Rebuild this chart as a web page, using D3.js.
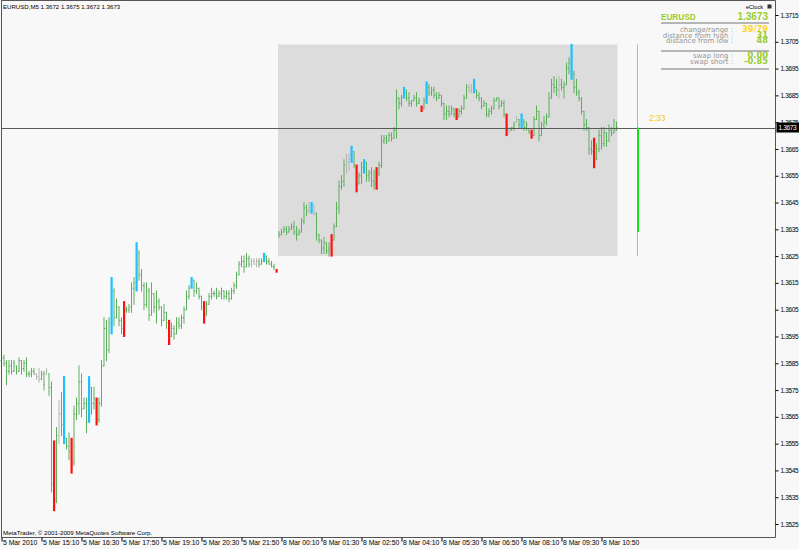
<!DOCTYPE html>
<html>
<head>
<meta charset="utf-8">
<script src="https://cdn.jsdelivr.net/npm/d3@7"></script>
<style>
  html, body { margin: 0; padding: 0; background: #f8f8f8; }
  svg { display: block; font-family: "Liberation Sans", Arial, sans-serif; }
  .axis text { font-size: 6.8px; fill: #000; }
  .yaxis text { font-size: 6.5px; letter-spacing: -0.35px; }
  .axis line { stroke: #000; }
  .panel-label { font-family: "DejaVu Sans", Verdana, sans-serif; font-size: 7px; fill: #949494; text-anchor: end; }
  .panel-value { font-family: "DejaVu Sans", Verdana, sans-serif; font-size: 8.3px; font-weight: bold; text-anchor: end; }
</style>
</head>
<body>
<script>
// EURUSD M5, 5 Mar 2010 14:xx .. 8 Mar 2010 11:15, [open, high, low, close]
const bars = [
  [1.3586,1.3588,1.3585,1.3587],[1.3587,1.3588,1.3584,1.3585],[1.3585,1.3586,1.3577,1.3582],[1.3582,1.3586,1.3581,1.3584],[1.3584,1.3586,1.3581,1.3582],
  [1.3582,1.3586,1.3582,1.3585],[1.3584,1.3584,1.3581,1.3582],[1.3582,1.3587,1.3582,1.3586],[1.3586,1.3586,1.3581,1.3583],[1.3583,1.3586,1.3582,1.3585],
  [1.3585,1.3587,1.3580,1.3581],[1.3581,1.3582,1.3580,1.3581],[1.3581,1.3583,1.3580,1.3582],[1.3582,1.3583,1.3581,1.3581],[1.3581,1.3581,1.3579,1.3580],
  [1.3580,1.3583,1.3578,1.3579],[1.3579,1.3582,1.3579,1.3581],[1.3581,1.3582,1.3575,1.3577],[1.3581,1.3583,1.3581,1.3582],[1.3581,1.3581,1.3573,1.3576],
  [1.3576,1.3578,1.3537,1.3540],[1.3540,1.3556,1.3530,1.3534],[1.3534,1.3561,1.3533,1.3558],[1.3558,1.3571,1.3555,1.3566],[1.3566,1.3574,1.3558,1.3562],
  [1.3562,1.3580,1.3555,1.3557],[1.3557,1.3557,1.3553,1.3554],[1.3554,1.3559,1.3549,1.3552],[1.3552,1.3557,1.3544,1.3548],[1.3548,1.3569,1.3547,1.3566],
  [1.3566,1.3572,1.3564,1.3570],[1.3570,1.3584,1.3566,1.3578],[1.3578,1.3581,1.3565,1.3568],[1.3568,1.3572,1.3568,1.3570],[1.3570,1.3572,1.3559,1.3563],
  [1.3563,1.3580,1.3563,1.3576],[1.3576,1.3576,1.3566,1.3570],[1.3570,1.3576,1.3568,1.3572],[1.3572,1.3572,1.3562,1.3564],[1.3564,1.3572,1.3563,1.3570],
  [1.3570,1.3586,1.3569,1.3584],[1.3584,1.3602,1.3584,1.3598],[1.3598,1.3601,1.3586,1.3590],[1.3590,1.3602,1.3589,1.3600],[1.3600,1.3617,1.3596,1.3612],
  [1.3612,1.3613,1.3599,1.3602],[1.3602,1.3609,1.3602,1.3606],[1.3606,1.3606,1.3599,1.3601],[1.3601,1.3602,1.3596,1.3598],[1.3598,1.3608,1.3595,1.3605],
  [1.3605,1.3606,1.3604,1.3605],[1.3605,1.3607,1.3604,1.3606],[1.3606,1.3615,1.3604,1.3613],[1.3613,1.3617,1.3607,1.3615],[1.3615,1.3630,1.3612,1.3626],
  [1.3626,1.3627,1.3616,1.3618],[1.3618,1.3620,1.3612,1.3614],[1.3614,1.3615,1.3605,1.3607],[1.3607,1.3615,1.3606,1.3612],[1.3612,1.3613,1.3601,1.3603],
  [1.3603,1.3615,1.3603,1.3611],[1.3611,1.3611,1.3604,1.3606],[1.3606,1.3612,1.3600,1.3608],[1.3608,1.3609,1.3605,1.3606],[1.3606,1.3606,1.3599,1.3601],
  [1.3601,1.3607,1.3601,1.3604],[1.3604,1.3604,1.3598,1.3600],[1.3600,1.3601,1.3592,1.3595],[1.3595,1.3600,1.3595,1.3598],[1.3598,1.3599,1.3594,1.3596],
  [1.3596,1.3602,1.3596,1.3600],[1.3600,1.3602,1.3598,1.3599],[1.3599,1.3603,1.3598,1.3602],[1.3602,1.3606,1.3600,1.3605],[1.3605,1.3612,1.3605,1.3610],
  [1.3610,1.3614,1.3609,1.3613],[1.3613,1.3617,1.3613,1.3616],[1.3616,1.3616,1.3610,1.3612],[1.3612,1.3615,1.3611,1.3613],[1.3613,1.3613,1.3609,1.3610],
  [1.3610,1.3610,1.3605,1.3606],[1.3606,1.3608,1.3600,1.3603],[1.3603,1.3608,1.3603,1.3607],[1.3607,1.3611,1.3607,1.3610],[1.3610,1.3613,1.3609,1.3611],
  [1.3611,1.3612,1.3610,1.3611],[1.3611,1.3613,1.3609,1.3610],[1.3610,1.3612,1.3610,1.3611],[1.3611,1.3613,1.3609,1.3612],[1.3612,1.3612,1.3609,1.3610],
  [1.3610,1.3612,1.3609,1.3611],[1.3611,1.3612,1.3608,1.3609],[1.3609,1.3613,1.3609,1.3612],[1.3612,1.3615,1.3611,1.3614],[1.3614,1.3619,1.3613,1.3618],
  [1.3618,1.3623,1.3618,1.3622],[1.3622,1.3625,1.3621,1.3623],[1.3623,1.3625,1.3619,1.3621],[1.3621,1.3626,1.3621,1.3624],[1.3624,1.3625,1.3621,1.3622],
  [1.3622,1.3624,1.3621,1.3623],[1.3623,1.3624,1.3622,1.3622],[1.3622,1.3624,1.3621,1.3623],[1.3623,1.3624,1.3621,1.3622],[1.3622,1.3624,1.3622,1.3623],
  [1.3623,1.3626,1.3623,1.3625],[1.3625,1.3625,1.3622,1.3623],[1.3623,1.3624,1.3622,1.3622],[1.3622,1.3623,1.3621,1.3621],[1.3621,1.3622,1.3620,1.3621],
  [1.3620,1.3620,1.3619,1.3619],
  // 8 Mar
  [1.3634,1.3634,1.3632,1.3633],[1.3633,1.3635,1.3633,1.3634],[1.3634,1.3636,1.3634,1.3635],[1.3635,1.3636,1.3633,1.3634],
  [1.3634,1.3636,1.3634,1.3635],[1.3635,1.3637,1.3635,1.3636],[1.3636,1.3638,1.3633,1.3634],[1.3634,1.3636,1.3631,1.3633],[1.3633,1.3635,1.3633,1.3634],
  [1.3634,1.3639,1.3634,1.3638],[1.3638,1.3645,1.3637,1.3643],[1.3643,1.3644,1.3640,1.3642],[1.3642,1.3645,1.3641,1.3643],[1.3643,1.3645,1.3641,1.3644],
  [1.3644,1.3644,1.3640,1.3641],[1.3641,1.3641,1.3631,1.3633],[1.3633,1.3633,1.3630,1.3631],[1.3631,1.3631,1.3626,1.3628],[1.3628,1.3632,1.3626,1.3630],
  [1.3630,1.3630,1.3626,1.3627],[1.3627,1.3630,1.3625,1.3628],[1.3628,1.3633,1.3625,1.3631],[1.3631,1.3637,1.3631,1.3636],[1.3636,1.3645,1.3636,1.3643],
  [1.3643,1.3653,1.3641,1.3651],[1.3651,1.3655,1.3650,1.3653],[1.3653,1.3661,1.3651,1.3659],[1.3659,1.3663,1.3656,1.3660],[1.3660,1.3663,1.3657,1.3661],
  [1.3661,1.3666,1.3660,1.3664],[1.3664,1.3664,1.3658,1.3659],[1.3659,1.3659,1.3649,1.3652],[1.3652,1.3656,1.3652,1.3655],[1.3655,1.3660,1.3652,1.3658],
  [1.3658,1.3661,1.3656,1.3660],[1.3660,1.3660,1.3653,1.3655],[1.3655,1.3657,1.3653,1.3656],[1.3656,1.3658,1.3651,1.3653],[1.3653,1.3657,1.3650,1.3652],
  [1.3652,1.3658,1.3650,1.3656],[1.3656,1.3660,1.3655,1.3659],[1.3659,1.3670,1.3658,1.3668],[1.3668,1.3670,1.3667,1.3669],[1.3669,1.3670,1.3667,1.3668],
  [1.3668,1.3671,1.3668,1.3670],[1.3670,1.3671,1.3668,1.3669],[1.3669,1.3673,1.3669,1.3672],[1.3672,1.3687,1.3669,1.3684],[1.3684,1.3684,1.3680,1.3682],
  [1.3682,1.3685,1.3681,1.3684],[1.3684,1.3688,1.3684,1.3686],[1.3686,1.3687,1.3683,1.3684],[1.3684,1.3686,1.3681,1.3682],[1.3682,1.3683,1.3681,1.3683],
  [1.3683,1.3685,1.3683,1.3684],[1.3684,1.3686,1.3681,1.3682],[1.3682,1.3684,1.3682,1.3683],[1.3681,1.3681,1.3679,1.3680],[1.3680,1.3684,1.3680,1.3683],
  [1.3683,1.3690,1.3682,1.3688],[1.3688,1.3689,1.3685,1.3686],[1.3686,1.3688,1.3685,1.3687],[1.3687,1.3688,1.3684,1.3685],[1.3685,1.3686,1.3683,1.3684],
  [1.3684,1.3686,1.3684,1.3685],[1.3685,1.3685,1.3681,1.3682],[1.3682,1.3682,1.3676,1.3678],[1.3678,1.3681,1.3676,1.3679],[1.3679,1.3681,1.3677,1.3678],
  [1.3678,1.3681,1.3678,1.3680],[1.3680,1.3680,1.3677,1.3678],[1.3678,1.3680,1.3676,1.3677],[1.3677,1.3680,1.3677,1.3679],[1.3679,1.3681,1.3678,1.3680],
  [1.3680,1.3685,1.3680,1.3684],[1.3684,1.3689,1.3684,1.3688],[1.3688,1.3689,1.3686,1.3687],[1.3687,1.3689,1.3686,1.3688],[1.3688,1.3691,1.3686,1.3687],
  [1.3687,1.3687,1.3684,1.3685],[1.3685,1.3686,1.3683,1.3684],[1.3684,1.3684,1.3680,1.3681],[1.3681,1.3683,1.3681,1.3682],[1.3682,1.3682,1.3677,1.3678],
  [1.3678,1.3680,1.3677,1.3679],[1.3679,1.3681,1.3678,1.3680],[1.3680,1.3684,1.3680,1.3683],[1.3683,1.3684,1.3683,1.3684],[1.3684,1.3684,1.3680,1.3681],
  [1.3681,1.3683,1.3681,1.3682],[1.3682,1.3683,1.3677,1.3678],[1.3678,1.3678,1.3670,1.3671],[1.3671,1.3673,1.3671,1.3672],[1.3672,1.3673,1.3672,1.3673],
  [1.3673,1.3675,1.3672,1.3674],[1.3675,1.3677,1.3675,1.3676],[1.3676,1.3676,1.3673,1.3674],[1.3674,1.3678,1.3673,1.3675],[1.3675,1.3676,1.3672,1.3673],
  [1.3673,1.3675,1.3672,1.3674],[1.3672,1.3672,1.3671,1.3671],[1.3671,1.3672,1.3669,1.3670],[1.3670,1.3677,1.3670,1.3676],[1.3676,1.3681,1.3676,1.3679],
  [1.3679,1.3679,1.3668,1.3670],[1.3670,1.3675,1.3670,1.3674],[1.3674,1.3677,1.3673,1.3675],[1.3675,1.3678,1.3674,1.3677],[1.3677,1.3686,1.3677,1.3684],
  [1.3684,1.3691,1.3684,1.3689],[1.3689,1.3692,1.3686,1.3688],[1.3688,1.3691,1.3685,1.3687],[1.3687,1.3692,1.3684,1.3689],[1.3689,1.3691,1.3687,1.3688],
  [1.3688,1.3690,1.3684,1.3689],[1.3689,1.3697,1.3689,1.3695],[1.3695,1.3699,1.3693,1.3697],[1.3697,1.3704,1.3691,1.3693],[1.3693,1.3694,1.3686,1.3688],
  [1.3688,1.3691,1.3685,1.3686],[1.3686,1.3687,1.3683,1.3684],[1.3684,1.3684,1.3678,1.3679],[1.3679,1.3679,1.3672,1.3674],[1.3674,1.3676,1.3672,1.3673],
  [1.3673,1.3673,1.3663,1.3665],[1.3665,1.3668,1.3663,1.3664],[1.3664,1.3669,1.3658,1.3661],[1.3661,1.3667,1.3661,1.3665],[1.3665,1.3672,1.3664,1.3670],
  [1.3670,1.3673,1.3665,1.3667],[1.3667,1.3673,1.3666,1.3671],[1.3671,1.3671,1.3666,1.3668],[1.3668,1.3674,1.3668,1.3672],[1.3672,1.3673,1.3670,1.3671],
  [1.3671,1.3676,1.3671,1.3672],[1.3672,1.3675,1.3672,1.3673]
];

// bar indices coloured by the indicator
const greyBars = [14, 15, 18, 23, 100, 101, 102, 123, 125, 138, 139, 187, 188, 203, 206, 223];
const blueBars = [25, 35, 44, 54, 76, 105, 124, 140, 145, 161, 170, 189, 208, 228];
const redBars = [21, 28, 38, 49, 67, 81, 110, 132, 142, 150, 168, 182, 202, 212, 237];

const sessionStart = 111; // first bar of 8 Mar

const priceTicks = [1.3525, 1.3535, 1.3545, 1.3555, 1.3565, 1.3575, 1.3585, 1.3595, 1.3605, 1.3615,
                    1.3625, 1.3635, 1.3645, 1.3655, 1.3665, 1.3675, 1.3685, 1.3695, 1.3705, 1.3715];

const timeTickBars = [0, 16, 32, 48, 64, 80, 96, 112, 128, 144, 160, 176, 192, 208, 224, 240];
const timeTickLabels = ["5 Mar 2010", "5 Mar 15:10", "5 Mar 16:30", "5 Mar 17:50", "5 Mar 19:10", "5 Mar 20:30",
                        "5 Mar 21:50", "8 Mar 00:10", "8 Mar 01:30", "8 Mar 02:50", "8 Mar 04:10", "8 Mar 05:30",
                        "8 Mar 06:50", "8 Mar 08:10", "8 Mar 09:30", "8 Mar 10:50"];

const symbol = "EURUSD";
const period = "M5";
const swapLong = "0.00";
const swapShort = "-0.85";
const timeLeft = "2:33";

const W = 799, H = 549;
const plotRight = 775.5, plotBottom = 537.5;

const svg = d3.select("body").append("svg").attr("width", W).attr("height", H);
svg.append("rect").attr("width", W).attr("height", H).attr("fill", "#f8f8f8");

const x = d3.scaleLinear().domain([0, bars.length - 1]).range([1.5, 1.5 + 2.5 * (bars.length - 1)]);
const y = d3.scaleLinear().domain([1.3525, 1.3715]).range([524, 15]);

// session stats
const session = bars.slice(sessionStart);
const sHigh = d3.max(session, d => d[1]);
const sLow = d3.min(session, d => d[2]);
const sOpen = session[0][0];
const last = bars[bars.length - 1];
const pip = v => Math.round(v * 10000);

// session box
svg.append("rect")
    .attr("x", x(sessionStart) - 1)
    .attr("y", y(sHigh))
    .attr("width", x(bars.length - 1) - x(sessionStart) + 2)
    .attr("height", y(sLow) - y(sHigh))
    .attr("fill", "#dcdcdc");

const kindOf = i => blueBars.includes(i) ? "blue" : redBars.includes(i) ? "red" : greyBars.includes(i) ? "grey" : "green";
const barColor = {green: "#5daf5d", grey: "#b4b4b4", blue: "#1cc0ff", red: "#ff1010"};

const data = bars.map((b, i) => ({i, o: b[0], h: b[1], l: b[2], c: b[3], kind: kindOf(i)}));

// thin OHLC bars
const thin = svg.append("g").selectAll("g")
    .data(data.filter(d => d.kind === "green" || d.kind === "grey"))
    .join("g")
    .attr("stroke", d => barColor[d.kind])
    .attr("stroke-width", 1);
thin.append("line")
    .attr("x1", d => x(d.i)).attr("x2", d => x(d.i))
    .attr("y1", d => y(d.h) - 0.5).attr("y2", d => y(d.l) + 0.5);
thin.append("line")
    .attr("x1", d => x(d.i) - 1).attr("x2", d => x(d.i))
    .attr("y1", d => y(d.o)).attr("y2", d => y(d.o));
thin.append("line")
    .attr("x1", d => x(d.i)).attr("x2", d => x(d.i) + 1)
    .attr("y1", d => y(d.c)).attr("y2", d => y(d.c));

// thick highlighted bars
svg.append("g").selectAll("rect")
    .data(data.filter(d => d.kind === "blue" || d.kind === "red"))
    .join("rect")
    .attr("x", d => x(d.i) - 1)
    .attr("width", 2.2)
    .attr("y", d => y(d.h) - 0.5)
    .attr("height", d => Math.max(2, y(d.l) - y(d.h) + 1))
    .attr("fill", d => barColor[d.kind]);

// current price line
svg.append("line")
    .attr("x1", 1.5).attr("x2", plotRight)
    .attr("y1", Math.round(y(last[3])) + 0.5).attr("y2", Math.round(y(last[3])) + 0.5)
    .attr("stroke", "#5a5a5a").attr("stroke-width", 1);

// clock line to the right of the last bar
const clockX = Math.round(x(bars.length - 1 + 8)) + 0.5;
svg.append("line")
    .attr("x1", clockX).attr("x2", clockX)
    .attr("y1", y(sHigh)).attr("y2", y(sLow))
    .attr("stroke", "#8fcf8f").attr("stroke-width", 1);
svg.append("line")
    .attr("x1", clockX + 0.5).attr("x2", clockX + 0.5)
    .attr("y1", y(last[3])).attr("y2", y(sOpen))
    .attr("stroke", "#14e614").attr("stroke-width", 2);
svg.append("text")
    .attr("x", 649).attr("y", y(last[3]) - 7)
    .attr("font-size", 8.5).attr("fill", "#f5c814")
    .text(timeLeft);

// frame
svg.append("path")
    .attr("d", `M1.5,0.5H${plotRight}V${plotBottom}H1.5Z`)
    .attr("fill", "none").attr("stroke", "#555");

// price axis
const yAxis = svg.append("g").attr("class", "axis yaxis")
    .attr("transform", `translate(${plotRight},0)`)
    .call(d3.axisRight(y).tickValues(priceTicks).tickSize(3).tickPadding(2).tickFormat(d3.format(".4f")));
yAxis.select(".domain").remove();

// time axis
const xAxis = svg.append("g").attr("class", "axis")
    .attr("transform", `translate(0,${plotBottom})`)
    .call(d3.axisBottom(x).tickValues(timeTickBars).tickSize(4)
        .tickFormat((d, k) => timeTickLabels[k]));
xAxis.select(".domain").remove();
xAxis.selectAll("text").attr("text-anchor", "start").attr("x", 1).attr("y", 3).attr("dy", "0.71em");

// current price marker
const lastY = y(last[3]);
svg.append("rect").attr("x", plotRight + 1).attr("y", lastY - 5).attr("width", 23).attr("height", 10).attr("fill", "#000");
svg.append("text").attr("x", plotRight + 3).attr("y", lastY + 2.5)
    .attr("font-size", 6.5).attr("letter-spacing", -0.35).attr("fill", "#fff").text(d3.format(".4f")(last[3]));

// header / footer text
svg.append("text").attr("x", 3).attr("y", 9).attr("font-size", 6.1).attr("fill", "#000")
    .text(`${symbol},${period}  ${last.map(d3.format(".4f")).join(" ")}`);
svg.append("text").attr("x", 3).attr("y", 534.5).attr("font-size", 6.2).attr("fill", "#000")
    .text("MetaTrader, \u00a9 2001-2009 MetaQuotes Software Corp.");

// eClock panel
const green = "#9acd32", gold = "#ffd42a";
const panel = svg.append("g");
panel.append("text").attr("x", 763).attr("y", 8.5).attr("font-size", 5.6).attr("text-anchor", "end").text("eClock");
panel.append("rect").attr("x", 767.5).attr("y", 4.5).attr("width", 4).attr("height", 4).attr("fill", "#333");
panel.append("text").attr("x", 661).attr("y", 19.5).attr("font-size", 8.2).attr("font-weight", "bold").attr("fill", green).text(symbol);
panel.append("text").attr("x", 768).attr("y", 20).attr("font-size", 10).attr("font-weight", "bold")
    .attr("text-anchor", "end").attr("fill", green).text(d3.format(".4f")(last[3]));

const rows = [
  {label: "change/range :", value: `${pip(last[3] - sOpen)}/${pip(sHigh - sLow)}`, color: gold, yy: 32},
  {label: "distance from high :", value: `${pip(sHigh - last[3])}`, color: green, yy: 37.5},
  {label: "distance from low :", value: `${pip(last[3] - sLow)}`, color: green, yy: 43},
  {label: "swap long :", value: swapLong, color: green, yy: 58},
  {label: "swap short :", value: swapShort, color: green, yy: 63.8}
];
rows.forEach(r => {
    panel.append("text").attr("class", "panel-label").attr("x", 733).attr("y", r.yy).text(r.label);
    panel.append("text").attr("class", "panel-value").attr("x", 768).attr("y", r.yy).attr("fill", r.color).text(r.value);
});
[23, 51, 69].forEach(ly => {
    panel.append("line").attr("x1", 661).attr("x2", 769).attr("y1", ly).attr("y2", ly)
        .attr("stroke", "#a0a0a0").attr("stroke-width", 1.3);
});
</script>
</body>
</html>
